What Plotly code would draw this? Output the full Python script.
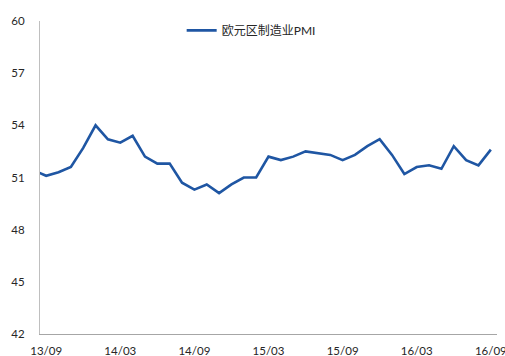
import plotly.graph_objects as go

# Eurozone manufacturing PMI, monthly, Aug 2013 - Sep 2016
months = ["13/08", "13/09", "13/10", "13/11", "13/12",
          "14/01", "14/02", "14/03", "14/04", "14/05", "14/06",
          "14/07", "14/08", "14/09", "14/10", "14/11", "14/12",
          "15/01", "15/02", "15/03", "15/04", "15/05", "15/06",
          "15/07", "15/08", "15/09", "15/10", "15/11", "15/12",
          "16/01", "16/02", "16/03", "16/04", "16/05", "16/06",
          "16/07", "16/08", "16/09"]
pmi = [51.4, 51.1, 51.3, 51.6, 52.7,
       54.0, 53.2, 53.0, 53.4, 52.2, 51.8,
       51.8, 50.7, 50.3, 50.6, 50.1, 50.6,
       51.0, 51.0, 52.2, 52.0, 52.2, 52.5,
       52.4, 52.3, 52.0, 52.3, 52.8, 53.2,
       52.3, 51.2, 51.6, 51.7, 51.5, 52.8,
       52.0, 51.7, 52.6]
tick_labels = ["13/09", "14/03", "14/09", "15/03", "15/09", "16/03", "16/09"]
y_ticks = [42, 45, 48, 51, 54, 57, 60]

x_idx = list(range(len(months)))
tick_pos = [months.index(t) for t in tick_labels]

fig = go.Figure()
fig.add_trace(go.Scatter(
    x=x_idx, y=pmi, mode="lines", name="欧元区制造业PMI",
    line=dict(color="#1f56a3", width=2.6),
))

fig.update_layout(
    width=505, height=356,
    margin=dict(l=40, r=8, t=21, b=22, autoexpand=False),
    paper_bgcolor="white", plot_bgcolor="white",
    font=dict(family="Lato, 'Noto Sans CJK SC'", size=11.5, color="#262626"),
    showlegend=True,
    legend=dict(
        orientation="h", x=0.31, xanchor="left", y=0.97, yanchor="middle",
        font=dict(family="Lato, 'Noto Sans CJK SC'", size=12, color="#262626"),
        bgcolor="rgba(0,0,0,0)", borderwidth=0,
    ),
)

fig.update_xaxes(
    range=[0.5, 37.5], tickmode="array", tickvals=tick_pos, ticktext=tick_labels,
    showgrid=False, zeroline=False, showline=True, linecolor="#a6a6a6", linewidth=1,
    ticks="", ticklabelstandoff=6, ticklabeloverflow="allow", automargin=False,
)
fig.update_yaxes(
    range=[42, 60], tickmode="array", tickvals=y_ticks,
    showgrid=False, zeroline=False, showline=True, linecolor="#bfbfbf", linewidth=1,
    ticks="", ticklabelstandoff=12, automargin=False,
)

fig.write_html("out.html")
